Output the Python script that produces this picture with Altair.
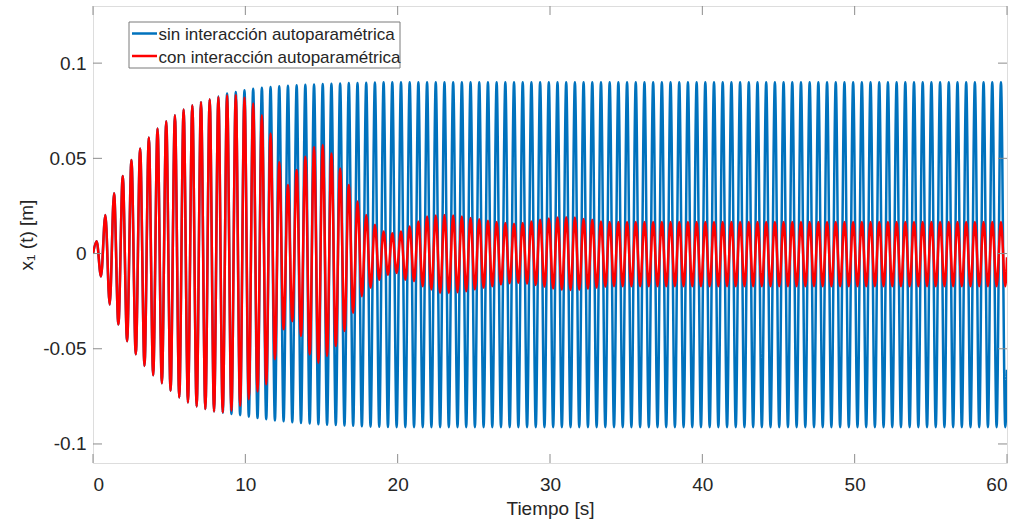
import altair as alt
import pandas as pd

# ---- values ----
FIRST_PEAK_T = 0.24      # time of the first local maximum [s]
PERIOD = 0.5708          # oscillation period [s]
T_END = 60.0

# red: "con interacción autoparamétrica" (one maximum / minimum per cycle)
red_peaks = [0.0065, 0.0203, 0.0317, 0.0407, 0.0491, 0.0552, 0.0610, 0.0657, 0.0695, 0.0726,
             0.0756, 0.0779, 0.0796, 0.0810, 0.0822, 0.0831, 0.0833, 0.0820, 0.0788, 0.0726,
             0.0630, 0.0480, 0.0360, 0.0439, 0.0508, 0.0560, 0.0570, 0.0526, 0.0447, 0.0360,
             0.0273, 0.0203, 0.0151, 0.0116, 0.0107, 0.0116, 0.0142, 0.0168, 0.0194, 0.0200,
             0.0203, 0.0200, 0.0194, 0.0186, 0.0180, 0.0172, 0.0165, 0.0160, 0.0156, 0.0160,
             0.0168, 0.0177, 0.0184, 0.0189, 0.0191, 0.0189, 0.0182, 0.0177, 0.0168, 0.0165] + [0.0165] * 45
red_troughs = [-0.0120, -0.0268, -0.0372, -0.0460, -0.0529, -0.0590, -0.0639, -0.0681, -0.0721, -0.0756,
               -0.0782, -0.0803, -0.0817, -0.0829, -0.0834, -0.0825, -0.0800, -0.0765, -0.0725, -0.0686,
               -0.0555, -0.0398, -0.0355, -0.0433, -0.0530, -0.0573, -0.0538, -0.0486, -0.0407, -0.0311,
               -0.0224, -0.0180, -0.0137, -0.0111, -0.0102, -0.0137, -0.0145, -0.0172, -0.0189, -0.0207,
               -0.0207, -0.0203, -0.0198, -0.0189, -0.0180, -0.0172, -0.0163, -0.0156, -0.0154, -0.0158,
               -0.0165, -0.0175, -0.0184, -0.0190, -0.0192, -0.0190, -0.0185, -0.0180, -0.0175, -0.0172] + [-0.0172] * 45
red_end = -0.002

# blue: "sin interacción autoparamétrica"
blue_peaks = [0.0065, 0.0203, 0.0317, 0.0407, 0.0491, 0.0552, 0.0610, 0.0657, 0.0695, 0.0726,
              0.0756, 0.0779, 0.0796, 0.0810, 0.0826, 0.0840, 0.0848, 0.0857, 0.0866, 0.0871,
              0.0875, 0.0878, 0.0881, 0.0884, 0.0886, 0.0888, 0.0890, 0.0892, 0.0893, 0.0895,
              0.0896, 0.0897, 0.0898, 0.0899] + [0.0900] * 71
blue_troughs = [-0.0120, -0.0268, -0.0372, -0.0460, -0.0529, -0.0590, -0.0639, -0.0681, -0.0721, -0.0756,
                -0.0782, -0.0803, -0.0817, -0.0829, -0.0836, -0.0843, -0.0849, -0.0857, -0.0864, -0.0870,
                -0.0876, -0.0881, -0.0886, -0.0890, -0.0893, -0.0896, -0.0899, -0.0901, -0.0903, -0.0905,
                -0.0907, -0.0909, -0.0910, -0.0911] + [-0.0912] * 71
blue_end = -0.061

x_ticks = [0, 10, 20, 30, 40, 50, 60]
y_ticks = [-0.1, -0.05, 0, 0.05, 0.1]

series_names = ["sin interacción autoparamétrica", "con interacción autoparamétrica"]
series_colors = ["#0072BD", "#FF0000"]

W, H = 914, 457
FONT = "Liberation Sans, Arial, Helvetica, sans-serif"
TXT = "#262626"
FRAME = "#8c8c8c"


def build(peaks, troughs, end_val):
    rows = [{"t": 0.0, "v": 0.0}]
    for k, (p, q) in enumerate(zip(peaks, troughs)):
        rows.append({"t": FIRST_PEAK_T + k * PERIOD, "v": p})
        rows.append({"t": FIRST_PEAK_T + (k + 0.5) * PERIOD, "v": q})
    rows.append({"t": T_END, "v": end_val})
    return pd.DataFrame(rows)


blue_df = build(blue_peaks, blue_troughs, blue_end)
red_df = build(red_peaks, red_troughs, red_end)

x_enc = alt.X("t:Q", scale=alt.Scale(domain=[0, 60], nice=False, zero=False),
              axis=alt.Axis(values=x_ticks, title="Tiempo [s]", grid=False, ticks=False, tickSize=0,
                            domain=False, labelFontSize=19, labelPadding=12, labelColor=TXT,
                            labelFont=FONT, titleFont=FONT, titleFontSize=19, titleColor=TXT,
                            titleFontWeight="normal", titlePadding=5))
y_enc = alt.Y("v:Q", scale=alt.Scale(domain=[-0.11, 0.13], nice=False, zero=False),
              axis=alt.Axis(values=y_ticks, title="x\u2081 (t) [m]", grid=False, ticks=False, tickSize=0,
                            domain=False, labelFontSize=19, labelPadding=7, labelColor=TXT,
                            labelFont=FONT, titleFont=FONT, titleFontSize=19, titleColor=TXT,
                            titleFontWeight="normal", titlePadding=6,
                            labelExpr="datum.value == 0 ? '0' : (datum.value < 0 ? '-' : '') + format(abs(datum.value), '.2~f')"))

blue_line = alt.Chart(blue_df).mark_line(interpolate="monotone", strokeWidth=2.5,
                                         color=series_colors[0], clip=True).encode(x=x_enc, y=y_enc)
red_line = alt.Chart(red_df).mark_line(interpolate="monotone", strokeWidth=2.5,
                                       color=series_colors[1], clip=True).encode(x="t:Q", y="v:Q")

xt = pd.DataFrame({"t": x_ticks})
yt = pd.DataFrame({"v": y_ticks})
TL = 9
xtick_bot = alt.Chart(xt).mark_rule(color=FRAME, strokeWidth=1).encode(
    x="t:Q", y=alt.value(H), y2=alt.value(H - TL))
xtick_top = alt.Chart(xt).mark_rule(color=FRAME, strokeWidth=1).encode(
    x="t:Q", y=alt.value(0), y2=alt.value(TL))
ytick_l = alt.Chart(yt).mark_rule(color=FRAME, strokeWidth=1).encode(
    y="v:Q", x=alt.value(0), x2=alt.value(TL))
ytick_r = alt.Chart(yt).mark_rule(color=FRAME, strokeWidth=1).encode(
    y="v:Q", x=alt.value(W - TL), x2=alt.value(W))

one = pd.DataFrame({"a": [0]})
leg_box = alt.Chart(one).mark_rect(fill="white", stroke="#7a7a7a", strokeWidth=1).encode(
    x=alt.value(36), x2=alt.value(307), y=alt.value(16), y2=alt.value(62))
leg_layers = [leg_box]
row_y = [27.5, 50]
for name, col, yy in zip(series_names, series_colors, row_y):
    leg_layers.append(alt.Chart(one).mark_rule(color=col, strokeWidth=2.5).encode(
        x=alt.value(39), x2=alt.value(64), y=alt.value(yy)))
    leg_layers.append(alt.Chart(one).mark_text(align="left", baseline="middle", font=FONT,
                                               fontSize=17, color=TXT).encode(
        x=alt.value(65.5), y=alt.value(yy + 1.5), text=alt.value(name)))

chart = alt.layer(blue_line, red_line, xtick_bot, xtick_top, ytick_l, ytick_r, *leg_layers).properties(
    width=W, height=H,
    padding={"left": 93, "top": 6, "right": 14, "bottom": 60},
    autosize=alt.AutoSizeParams(type="none"),
).configure_view(stroke=FRAME, strokeWidth=1).configure(background="white")

chart.save("out.html", embed_options={"renderer": "svg", "actions": False})
